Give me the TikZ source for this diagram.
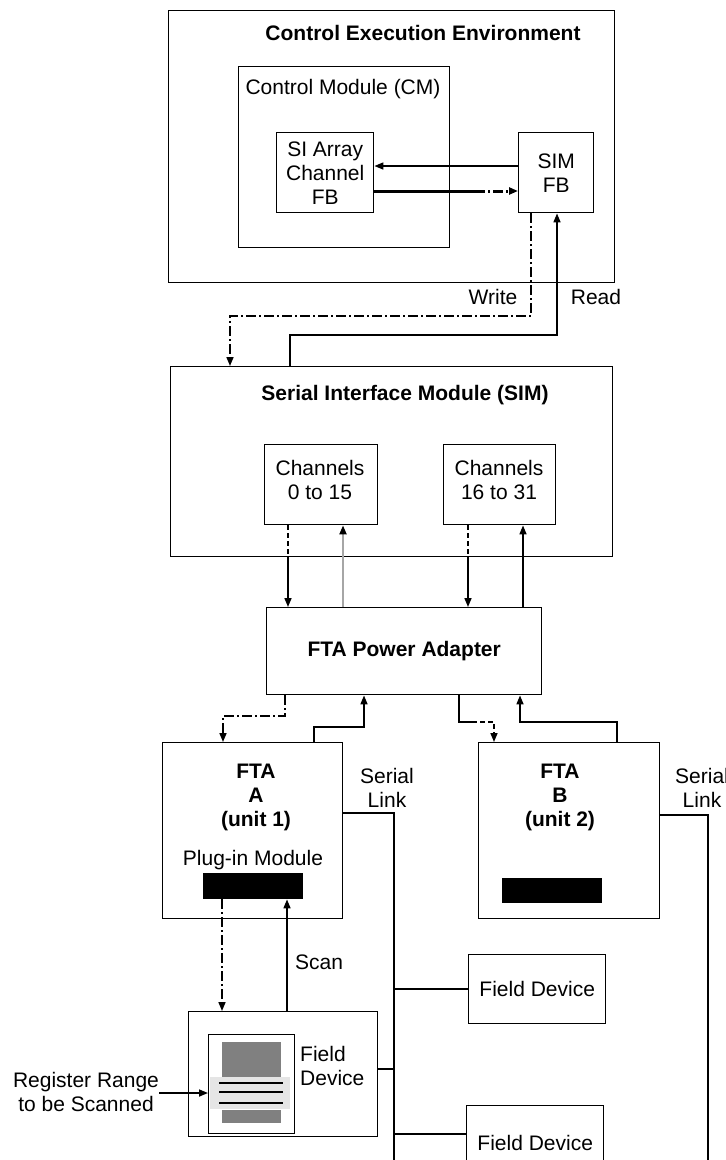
\documentclass[tikz,border=0pt]{standalone}
\usepackage{fontspec}
\setmainfont{Liberation Sans}
\usetikzlibrary{arrows.meta,positioning}
\newcommand{\dfont}{\fontsize{21}{24}\selectfont}

\begin{document}
\begin{tikzpicture}[
  x=1pt,y=-1pt,
  >={Triangle[length=9pt,width=7pt]},
  blk/.style={draw,line width=1.4pt,anchor=north west,inner sep=0pt,align=center,font=\dfont},
  ttl/.style={font=\dfont\bfseries,align=center,inner sep=0pt},
  lbl/.style={font=\dfont,align=center,inner sep=0pt},
  wire/.style={line width=1.6pt},
  arr/.style={wire,->},
  wrdash/.style={dash pattern=on 10pt off 3pt on 2pt off 3pt},
  shortdash/.style={dash pattern=on 5pt off 3pt},
  bar/.style={fill=black,anchor=north west,inner sep=0pt},
]
  \clip (0,0) rectangle (726,1160);

  \node[blk,minimum width=446pt,minimum height=272pt] (cee) at (168,10) {};
  \node[ttl] (ceet) at (423,33) {Control Execution Environment};
  \node[blk,minimum width=211pt,minimum height=181pt] (cm) at (238,66) {};
  \node[lbl] (cmt) at (343,89) {Control Module (CM)};
  \node[blk,minimum width=97pt,minimum height=80pt] (siarr) at (276,132) {SI Array\\Channel\\FB};
  \node[blk,minimum width=75pt,minimum height=80pt] (simfb) at (518,132) {SIM\\FB};

  \node[blk,minimum width=442pt,minimum height=190pt] (sim) at (170,366) {};
  \node[ttl] (simt) at (405,395) {Serial Interface Module (SIM)};
  \node[blk,minimum width=113pt,minimum height=80pt] (ch0) at (264,444) {};
  \node[lbl] (ch0t) at (320,480) {Channels\\0 to 15};
  \node[blk,minimum width=112pt,minimum height=80pt] (ch16) at (443,444) {};
  \node[lbl] (ch16t) at (499,480) {Channels\\16 to 31};

  \node[blk,minimum width=275pt,minimum height=87pt,font=\dfont\bfseries] (pa) at (266,607) {FTA Power Adapter};

  \node[blk,minimum width=180pt,minimum height=176pt] (ftaa) at (162,742) {};
  \node[ttl] (ftaat) at (256,797) {FTA\\A\\(unit 1)};
  \node[lbl] (plugt) at (253,860) {Plug-in Module};
  \node[bar,minimum width=100pt,minimum height=26pt] (plug) at (203,873) {};
  \node[blk,minimum width=181pt,minimum height=176pt] (ftab) at (478,742) {};
  \node[ttl] (ftabt) at (560,797) {FTA\\B\\(unit 2)};
  \node[bar,minimum width=100pt,minimum height=25pt] (plugb) at (502,878) {};
  \node[lbl] (sla) at (387,788) {Serial\\Link};
  \node[lbl] (slb) at (702,788) {Serial\\Link};

  \node[blk,minimum width=137pt,minimum height=69pt] (fd1) at (468,954) {Field Device};
  \node[blk,minimum width=137pt,minimum height=74pt] (fd2) at (466,1105) {Field Device};
  \node[blk,minimum width=189pt,minimum height=125pt] (fdl) at (188,1011) {};
  \node[blk,minimum width=86pt,minimum height=99pt] (reg) at (208,1034) {};
  \fill[gray] (222,1042) rectangle (281,1077);
  \fill[gray!20] (210,1077) rectangle (290,1109);
  \foreach \yy in {1083,1092,1103}
    \draw[wire] (219,\yy) -- (283,\yy);
  \fill[gray] (222,1110) rectangle (281,1123);
  \node[lbl,align=left,anchor=west] (fdlt) at (300,1066) {Field\\Device};
  \node[lbl] (regt) at (86,1092) {Register Range\\to be Scanned};
  \node[lbl] (scan) at (319,962) {Scan};
  \node[lbl] (wrt) at (493,297) {Write};
  \node[lbl] (rdt) at (596,297) {Read};

  \draw[arr] (simfb.west |- 0,166) -- (siarr.east |- 0,166);
  \coordinate (brk1) at (475,191);
  \draw[line width=3pt] (siarr.east |- brk1) -- (brk1);
  \draw[line width=3pt,wrdash,-{Triangle[length=9pt,width=7pt]}] (brk1) -- (simfb.west |- brk1);

  \draw[wire,wrdash,->] (simfb.south -| 531,0) |- (230,316) -- (sim.north -| 230,0);
  \draw[arr] (sim.north -| 290,0) |- (557,335) -- (simfb.south -| 557,0);

  \draw[wire,shortdash] (ch0.south -| 288,0) -- (sim.south -| 288,0);
  \draw[arr] (sim.south -| 288,0) -- (pa.north -| 288,0);
  \draw[line width=2pt,draw=gray!70,-{Triangle[length=9pt,width=7pt,color=black]}] (pa.north -| 343,0) -- (ch0.south -| 343,0);
  \draw[wire,shortdash] (ch16.south -| 468,0) -- (sim.south -| 468,0);
  \draw[arr] (sim.south -| 468,0) -- (pa.north -| 468,0);
  \draw[arr] (pa.north -| 523,0) -- (ch16.south -| 523,0);

  \draw[wire,wrdash,->] (pa.south -| 285,0) |- (223,716) -- (ftaa.north -| 223,0);
  \draw[arr] (ftaa.north -| 314,0) |- (364,727) -- (pa.south -| 364,0);
  \coordinate (brk2) at (472,722);
  \draw[line width=2.4pt] (pa.south -| 459,0) |- (brk2);
  \draw[wire,shortdash,->] (brk2) -| (ftab.north -| 494,0);
  \draw[arr] (ftab.north -| 617,0) |- (520,722) -- (pa.south -| 520,0);

  \coordinate (busa) at (394,1170);
  \coordinate (busb) at (708,1170);
  \draw[wire] (ftaa.east |- 0,813) -| (busa);
  \draw[wire] (ftab.east |- 0,815) -| (busb);
  \draw[wire] (fd1.west) -- (fd1.west -| busa);
  \draw[wire] (fdl.east |- 0,1069) -- (busa |- 0,1069);
  \draw[wire] (fd2.west |- 0,1134) -- (busa |- 0,1134);

  \draw[wire,wrdash,->] (plug.south -| 222,0) -- (fdl.north -| 222,0);
  \draw[arr] (fdl.north -| 287,0) -- (plug.south -| 287,0);
  \draw[arr] (regt.east |- 0,1093) -- (reg.west |- 0,1093);
\end{tikzpicture}
\end{document}
